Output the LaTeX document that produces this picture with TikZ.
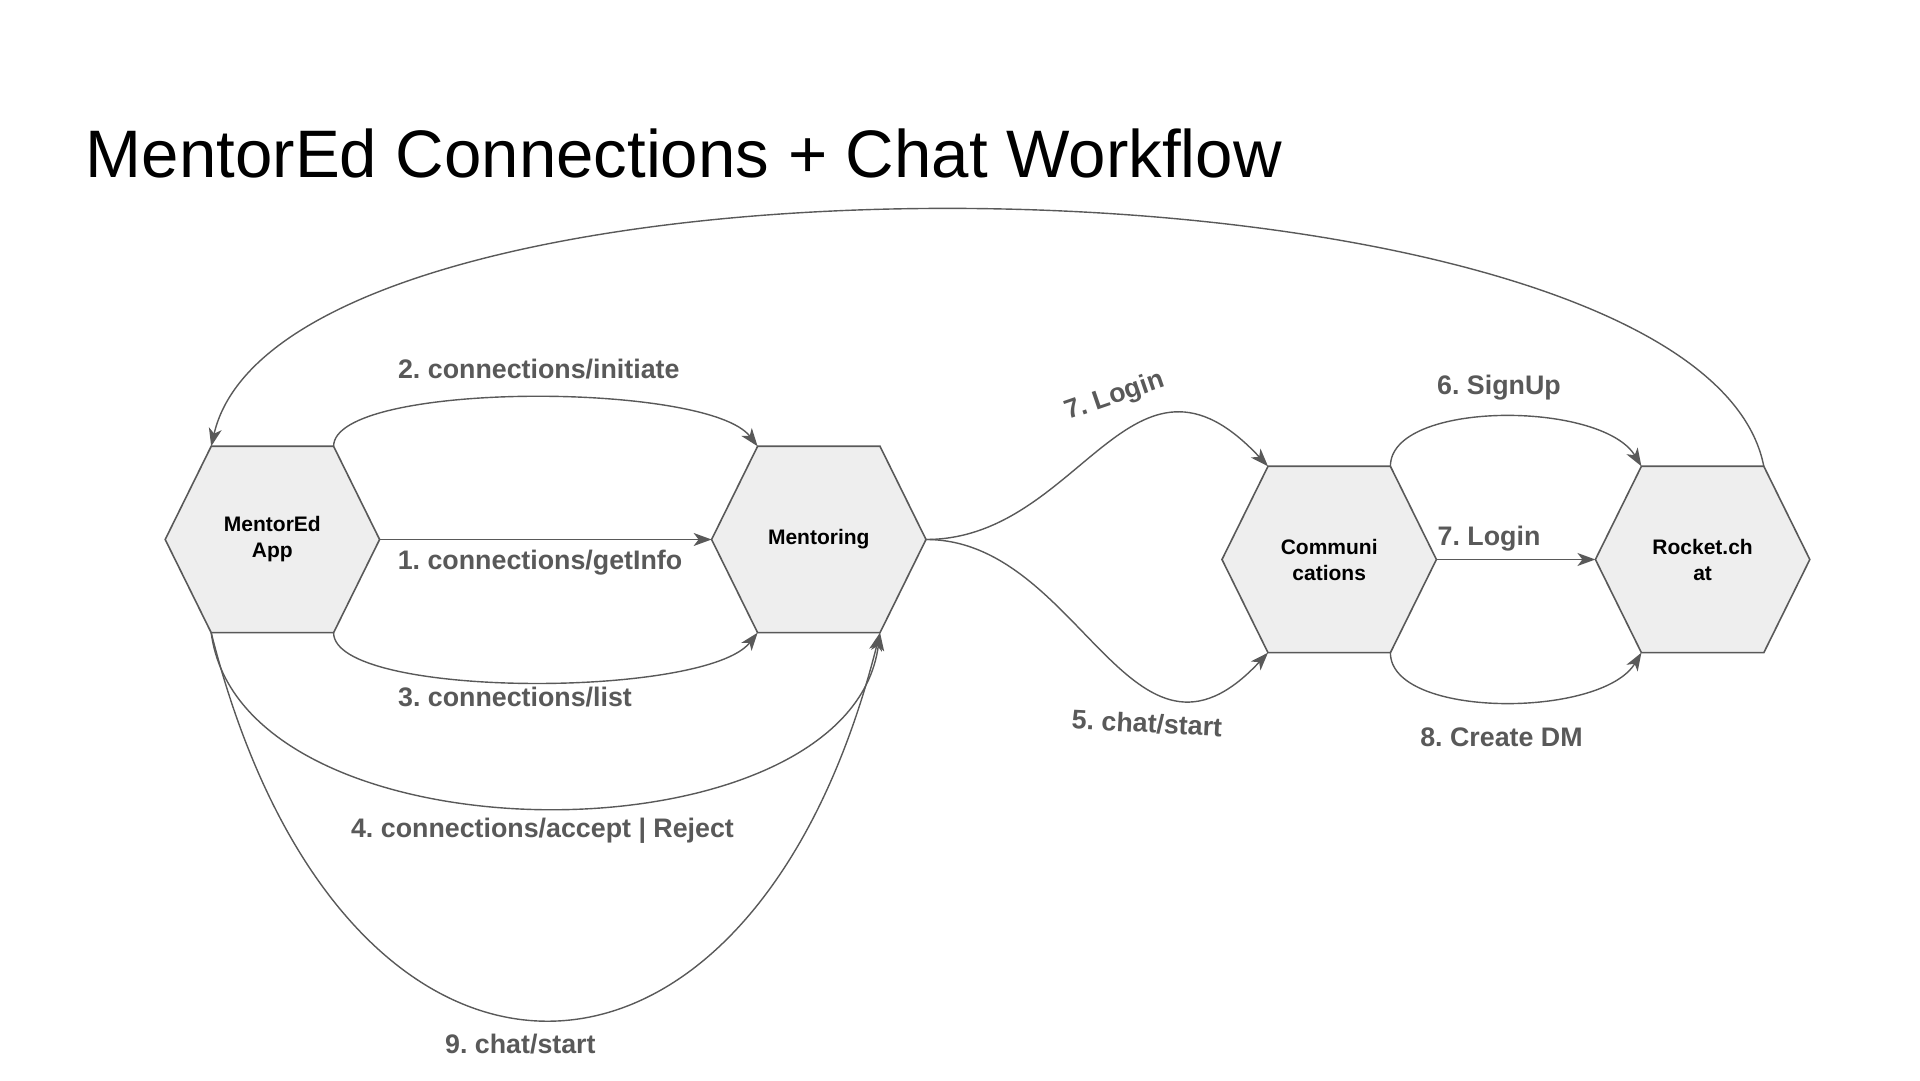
\documentclass[tikz,border=0pt]{standalone}
\usepackage{fontspec}
\setmainfont{Liberation Sans}
\usetikzlibrary{arrows.meta, positioning, backgrounds}
\frenchspacing

\definecolor{linegray}{HTML}{595959}
\definecolor{hexfill}{HTML}{EEEEEE}

\begin{document}
\begin{tikzpicture}[x=1pt, y=1pt,
  >={Stealth[length=18pt,width=13pt,inset=5pt]},
  flow/.style={->, draw=linegray, line width=1.4pt},
  hex node/.style={minimum width=214pt, minimum height=186pt, inner sep=0pt,
    align=center, font=\fontsize{21}{26}\selectfont\bfseries},
  label node/.style={text=linegray, inner sep=0pt, anchor=base,
    font=\fontsize{26.8}{30}\selectfont\bfseries}]
  \useasboundingbox (0,0) rectangle (1920,1080);

  \node[anchor=base west, inner sep=0pt, font=\fontsize{67.2}{80}\selectfont]
    (title) at (85.7,902) {MentorEd Connections + Chat Workflow};

  \node[hex node] (app) at (272.4,540.5) {MentorEd\\App};
  \node[hex node, right=332pt of app] (mentoring) {Mentoring};
  \node[hex node, right=296pt of mentoring, yshift=-20pt] (comm) {Communi\\cations};
  \node[hex node, right=159pt of comm] (rocket) {Rocket.ch\\at};

  % hexagon outlines behind the texts
  \begin{scope}[on background layer]
    \foreach \n in {app, mentoring, comm, rocket}
      \filldraw[fill=hexfill, draw=linegray, line width=1.6pt]
        (\n.west) -- ([xshift=46pt]\n.north west) -- ([xshift=-46pt]\n.north east)
        -- (\n.east) -- ([xshift=-46pt]\n.south east) -- ([xshift=46pt]\n.south west) -- cycle;
  \end{scope}

  \draw[flow] (app.east) -- (mentoring.west);
  \draw[flow] ([xshift=-46pt]app.north east) .. controls +(0,65) and +(-50,65) .. ([xshift=46pt]mentoring.north west);
  \draw[flow] ([xshift=-46pt]app.south east) .. controls +(0,-66) and +(-52,-66) .. ([xshift=46pt]mentoring.south west);
  \draw[flow] ([xshift=46pt]app.south west) .. controls +(30,-234) and +(-30,-234) .. ([xshift=-46pt]mentoring.south east);
  \draw[flow] ([xshift=46pt]app.south west) .. controls +(130,-516) and +(-130,-516) .. ([xshift=-46pt]mentoring.south east);
  \draw[flow] (mentoring.east) .. controls +(155,0) and +(-137,147) .. ([xshift=46pt]comm.north west);
  \draw[flow] (mentoring.east) .. controls +(155,0) and +(-137,-147) .. ([xshift=46pt]comm.south west);
  \draw[flow] (comm.east) -- (rocket.west);
  \draw[flow] ([xshift=-46pt]comm.north east) .. controls +(0,66) and +(-40,66) .. ([xshift=46pt]rocket.north west);
  \draw[flow] ([xshift=-46pt]comm.south east) .. controls +(0,-66) and +(-40,-66) .. ([xshift=46pt]rocket.south west);
  \draw[flow] ([xshift=-46pt]rocket.north east) .. controls +(-64,328) and +(76,328) .. ([xshift=46pt]app.north west);

  \node[label node] (l1) at (540,510.6) {1. connections/getInfo};
  \node[label node] (l2) at (538.8,701.6) {2. connections/initiate};
  \node[label node] (l3) at (515,373.5) {3. connections/list};
  \node[label node] (l4) at (542.5,243) {4. connections/accept | Reject};
  \node[label node] (l9) at (520.4,27) {9. chat/start};
  \node[label node, anchor=center, rotate=19] (l7a) at (1115,683.3) {7. Login};
  \node[label node, anchor=center, rotate=-3] (l5) at (1147,356.7) {5. chat/start};
  \node[label node] (l6) at (1499,685) {6. SignUp};
  \node[label node] (l7b) at (1489,534) {7. Login};
  \node[label node] (l8) at (1501.5,333) {8. Create DM};
\end{tikzpicture}
\end{document}
